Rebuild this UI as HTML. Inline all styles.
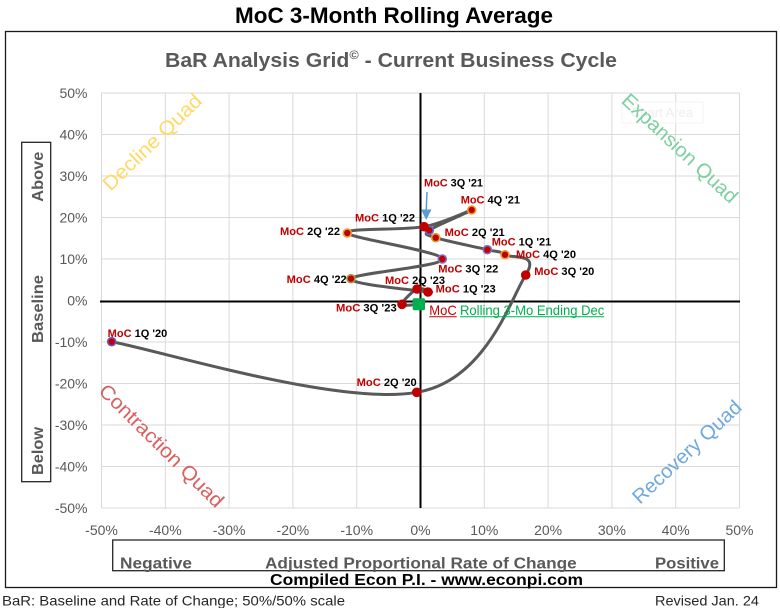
<!DOCTYPE html>
<html>
<head>
<meta charset="utf-8">
<style>
  html, body { margin:0; padding:0; background:#ffffff; }
  body { width:780px; height:608px; overflow:hidden; }
  svg { display:block; }
  text { font-family: "Liberation Sans", Arial, sans-serif; }
</style>
</head>
<body>
<svg width="780" height="608" viewBox="0 0 780 608" xmlns="http://www.w3.org/2000/svg">
  <rect x="0" y="0" width="780" height="608" fill="#ffffff"/>

  <!-- Main title -->
  <text x="394" y="23" text-anchor="middle" font-size="22" font-weight="bold" fill="#000" textLength="318" lengthAdjust="spacingAndGlyphs">MoC 3-Month Rolling Average</text>

  <!-- Outer frame -->
  <rect x="5.5" y="31.5" width="771" height="556" fill="none" stroke="#1a1a1a" stroke-width="1.3"/>

  <!-- Subtitle -->
  <text x="391" y="67" text-anchor="middle" font-size="20" font-weight="bold" fill="#595959" textLength="452" lengthAdjust="spacingAndGlyphs">BaR Analysis Grid<tspan font-size="12" dy="-8">©</tspan><tspan dy="8"> - Current Business Cycle</tspan></text>

  <!-- Gridlines -->
  <g stroke="#D9D9D9" stroke-width="1">
    <line x1="101.5" y1="93" x2="101.5" y2="508"/>
    <line x1="165.3" y1="93" x2="165.3" y2="508"/>
    <line x1="229.1" y1="93" x2="229.1" y2="508"/>
    <line x1="292.9" y1="93" x2="292.9" y2="508"/>
    <line x1="356.7" y1="93" x2="356.7" y2="508"/>
    <line x1="484.3" y1="93" x2="484.3" y2="508"/>
    <line x1="548.1" y1="93" x2="548.1" y2="508"/>
    <line x1="611.9" y1="93" x2="611.9" y2="508"/>
    <line x1="675.7" y1="93" x2="675.7" y2="508"/>
    <line x1="739.5" y1="93" x2="739.5" y2="508"/>
    <line x1="101.5" y1="93" x2="739.5" y2="93"/>
    <line x1="101.5" y1="134.5" x2="739.5" y2="134.5"/>
    <line x1="101.5" y1="176" x2="739.5" y2="176"/>
    <line x1="101.5" y1="217.5" x2="739.5" y2="217.5"/>
    <line x1="101.5" y1="259" x2="739.5" y2="259"/>
    <line x1="101.5" y1="342" x2="739.5" y2="342"/>
    <line x1="101.5" y1="383.5" x2="739.5" y2="383.5"/>
    <line x1="101.5" y1="425" x2="739.5" y2="425"/>
    <line x1="101.5" y1="466.5" x2="739.5" y2="466.5"/>
    <line x1="101.5" y1="508" x2="739.5" y2="508"/>
  </g>

  <!-- faint "Chart Area" tooltip ghost -->
  <rect x="622" y="102" width="81" height="21" fill="#ffffff" fill-opacity="0.5" stroke="#F3F3F3" stroke-width="1"/>
  <text x="662" y="117" text-anchor="middle" font-size="13" fill="#EEEEEE">Chart Area</text>

  <!-- Quadrant labels -->
  <text transform="translate(152,142) rotate(-44)" text-anchor="middle" dy="0.35em" font-size="20" fill="#FFD966" textLength="129" lengthAdjust="spacingAndGlyphs">Decline Quad</text>
  <text transform="translate(680,148) rotate(43)" text-anchor="middle" dy="0.35em" font-size="20" fill="#7CCF9E" textLength="150" lengthAdjust="spacingAndGlyphs">Expansion Quad</text>
  <text transform="translate(161.7,445.5) rotate(44.6)" text-anchor="middle" dy="0.35em" font-size="20" fill="#D9605F" textLength="166" lengthAdjust="spacingAndGlyphs">Contraction Quad</text>
  <text transform="translate(686.7,451.7) rotate(-43)" text-anchor="middle" dy="0.35em" font-size="20" fill="#6FA8DC" textLength="141" lengthAdjust="spacingAndGlyphs">Recovery Quad</text>

  <!-- Y tick labels -->
  <g font-size="14" fill="#595959" text-anchor="end">
    <text x="87.5" y="98">50%</text>
    <text x="87.5" y="139.5">40%</text>
    <text x="87.5" y="181">30%</text>
    <text x="87.5" y="222.5">20%</text>
    <text x="87.5" y="264">10%</text>
    <text x="87.5" y="305.5">0%</text>
    <text x="87.5" y="347">-10%</text>
    <text x="87.5" y="388.5">-20%</text>
    <text x="87.5" y="430">-30%</text>
    <text x="87.5" y="471.5">-40%</text>
    <text x="87.5" y="513">-50%</text>
  </g>

  <!-- X tick labels -->
  <g font-size="14" fill="#595959" text-anchor="middle">
    <text x="101.5" y="535">-50%</text>
    <text x="165.3" y="535">-40%</text>
    <text x="229.1" y="535">-30%</text>
    <text x="292.9" y="535">-20%</text>
    <text x="356.7" y="535">-10%</text>
    <text x="420.5" y="535">0%</text>
    <text x="484.3" y="535">10%</text>
    <text x="548.1" y="535">20%</text>
    <text x="611.9" y="535">30%</text>
    <text x="675.7" y="535">40%</text>
    <text x="739.5" y="535">50%</text>
  </g>

  <!-- Axes -->
  <line x1="100" y1="301.5" x2="740" y2="301.5" stroke="#000" stroke-width="2"/>
  <line x1="420.5" y1="93" x2="420.5" y2="508" stroke="#000" stroke-width="2"/>

  <!-- Series line -->
  <path d="M111.7,341.7 C165,352 340,406 416.7,392.3
           C485.7,381.18 510.98,297.93 525.7,275
           C540.42,252.07 511.4,258.92 505,254.7
           C498.6,250.48 498.85,252.53 487.3,249.7
           C475.75,246.87 445.37,240.93 435.7,237.7
           C426.03,234.47 423.3,234.92 429.3,230.3
           C435.3,225.68 472.58,210.6 471.7,210
           C470.82,209.4 444.73,222.87 424,226.7
           C403.27,230.53 344.25,227.62 347.3,233
           C350.35,238.38 441.68,251.38 442.3,259
           C442.92,266.62 353.38,273.2 351,278.7
           C348.62,284.2 417,290.28 428,292
           C439,293.72 421.33,286.95 417,289
           C412.67,291.05 401.67,301.8 402,304.3
           C402.33,306.8 416.17,304.05 419,304"
        fill="none" stroke="#595959" stroke-width="3" stroke-linejoin="round" stroke-linecap="round"/>

  <!-- Markers -->
  <g fill="#C00000" stroke-width="1.6">
    <circle cx="111.7" cy="341.7" r="4" stroke="#6A5ACD"/>
    <circle cx="416.7" cy="392.3" r="4" stroke="#C00000"/>
    <circle cx="525.7" cy="275" r="4" stroke="#C00000"/>
    <circle cx="505" cy="254.7" r="4" stroke="#F0A030"/>
    <circle cx="487.3" cy="249.7" r="4" stroke="#7F6FC0"/>
    <circle cx="435.7" cy="237.7" r="4" stroke="#E0A030"/>
    <circle cx="429.3" cy="230.3" r="4" stroke="#5B6FD0"/>
    <circle cx="471.7" cy="210" r="4" stroke="#F0A030"/>
    <circle cx="424" cy="226.7" r="4" stroke="#C00000"/>
    <circle cx="347.3" cy="233" r="4" stroke="#F0A030"/>
    <circle cx="442.3" cy="259" r="4" stroke="#7F6FC0"/>
    <circle cx="351" cy="278.7" r="4" stroke="#A0A040"/>
    <circle cx="428" cy="292" r="4" stroke="#C00000"/>
    <circle cx="417" cy="289" r="4" stroke="#C00000"/>
    <circle cx="402" cy="304.3" r="4" stroke="#C00000"/>
  </g>

  <!-- Blue arrow -->
  <line x1="427" y1="192" x2="426.2" y2="211" stroke="#5B9BD5" stroke-width="1.5"/>
  <polygon points="421,209.5 431.5,209.5 426.2,220" fill="#5B9BD5"/>

  <!-- Data labels -->
  <g font-size="11" font-weight="bold" fill="#000">
    <text x="107.7" y="337" textLength="59.6" lengthAdjust="spacingAndGlyphs"><tspan fill="#C00000">MoC</tspan> 1Q '20</text>
    <text x="356.7" y="386" textLength="60" lengthAdjust="spacingAndGlyphs"><tspan fill="#C00000">MoC</tspan> 2Q '20</text>
    <text x="534.3" y="275" textLength="60" lengthAdjust="spacingAndGlyphs"><tspan fill="#C00000">MoC</tspan> 3Q '20</text>
    <text x="516" y="258" textLength="60" lengthAdjust="spacingAndGlyphs"><tspan fill="#C00000">MoC</tspan> 4Q '20</text>
    <text x="491.7" y="245.7" textLength="59.5" lengthAdjust="spacingAndGlyphs"><tspan fill="#C00000">MoC</tspan> 1Q '21</text>
    <text x="444.7" y="236" textLength="60" lengthAdjust="spacingAndGlyphs"><tspan fill="#C00000">MoC</tspan> 2Q '21</text>
    <text x="424" y="186.7" textLength="59" lengthAdjust="spacingAndGlyphs"><tspan fill="#C00000">MoC</tspan> 3Q '21</text>
    <text x="460.7" y="203.3" textLength="59.3" lengthAdjust="spacingAndGlyphs"><tspan fill="#C00000">MoC</tspan> 4Q '21</text>
    <text x="355" y="221.3" textLength="60" lengthAdjust="spacingAndGlyphs"><tspan fill="#C00000">MoC</tspan> 1Q '22</text>
    <text x="280" y="235" textLength="60" lengthAdjust="spacingAndGlyphs"><tspan fill="#C00000">MoC</tspan> 2Q '22</text>
    <text x="438.3" y="272.3" textLength="60" lengthAdjust="spacingAndGlyphs"><tspan fill="#C00000">MoC</tspan> 3Q '22</text>
    <text x="286.7" y="283" textLength="60" lengthAdjust="spacingAndGlyphs"><tspan fill="#C00000">MoC</tspan> 4Q '22</text>
    <text x="385" y="284" textLength="60" lengthAdjust="spacingAndGlyphs"><tspan fill="#C00000">MoC</tspan> 2Q '23</text>
    <text x="435.7" y="292.5" textLength="60" lengthAdjust="spacingAndGlyphs"><tspan fill="#C00000">MoC</tspan> 1Q '23</text>
    <text x="336" y="311.7" textLength="60.7" lengthAdjust="spacingAndGlyphs"><tspan fill="#C00000">MoC</tspan> 3Q '23</text>
  </g>

  <!-- Current point (green square) -->
  <rect x="412.7" y="298.2" width="12.3" height="12" rx="1.5" fill="#00B050"/>

  <!-- Legend-like label -->
  <text x="429.3" y="315" font-size="14" fill="#C00000" textLength="27.4" lengthAdjust="spacingAndGlyphs">MoC</text>
  <line x1="429.3" y1="316.8" x2="456.7" y2="316.8" stroke="#C00000" stroke-width="1"/>
  <text x="460" y="315" font-size="14" fill="#00B050" textLength="144.3" lengthAdjust="spacingAndGlyphs">Rolling 3-Mo Ending Dec</text>
  <line x1="460" y1="316.8" x2="604.3" y2="316.8" stroke="#00B050" stroke-width="1"/>

  <!-- Left box: Above / Baseline / Below -->
  <rect x="21.7" y="142.3" width="29" height="339.4" fill="#ffffff" stroke="#262626" stroke-width="1.3"/>
  <g font-size="16" font-weight="bold" fill="#595959" text-anchor="middle">
    <text transform="translate(43,176.7) rotate(-90)" textLength="50" lengthAdjust="spacingAndGlyphs">Above</text>
    <text transform="translate(43,309) rotate(-90)" textLength="68" lengthAdjust="spacingAndGlyphs">Baseline</text>
    <text transform="translate(43,451) rotate(-90)" textLength="48" lengthAdjust="spacingAndGlyphs">Below</text>
  </g>

  <!-- Bottom box: Negative / Adjusted ... / Positive -->
  <rect x="112.7" y="540" width="611.6" height="30.7" fill="none" stroke="#262626" stroke-width="1.3"/>
  <g font-size="16" font-weight="bold" fill="#595959">
    <text x="120" y="568.3" textLength="72" lengthAdjust="spacingAndGlyphs">Negative</text>
    <text x="265" y="568.3" textLength="311.7" lengthAdjust="spacingAndGlyphs">Adjusted Proportional Rate of Change</text>
    <text x="655" y="568.3" textLength="64" lengthAdjust="spacingAndGlyphs">Positive</text>
  </g>

  <!-- Compiled line -->
  <text x="270" y="585" font-size="16" font-weight="bold" fill="#000" textLength="313" lengthAdjust="spacingAndGlyphs">Compiled Econ P.I. - www.econpi.com</text>

  <!-- Footer -->
  <text x="2" y="605.5" font-size="14" fill="#262626" textLength="343" lengthAdjust="spacingAndGlyphs">BaR: Baseline and Rate of Change; 50%/50% scale</text>
  <text x="655" y="605.5" font-size="14" fill="#262626" textLength="104" lengthAdjust="spacingAndGlyphs">Revised Jan. 24</text>
</svg>
</body>
</html>
